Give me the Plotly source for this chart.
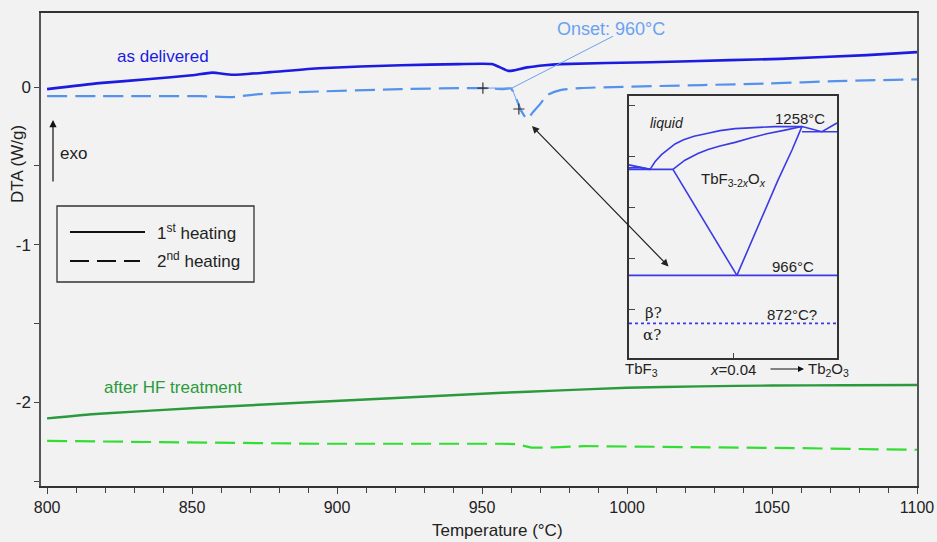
import plotly.graph_objects as go

# ---------------- main DTA data ----------------
T_del1 = [800, 818, 835.5, 850, 857, 864, 877, 894, 922, 942, 953.4, 956, 959, 961, 965.5, 971.7, 977, 1008, 1035.5, 1052.7, 1082.7, 1100]
D_del1 = [-0.013, 0.025, 0.051, 0.075, 0.092, 0.078, 0.095, 0.12, 0.139, 0.146, 0.146, 0.127, 0.103, 0.106, 0.125, 0.139, 0.146, 0.158, 0.171, 0.179, 0.203, 0.222]

T_del2 = [800, 835.5, 852.8, 864, 873, 887, 922, 950, 957, 960, 962, 963.4, 965.5, 967.6, 970, 972.4, 977, 984, 1026, 1049, 1072, 1100]
D_del2 = [-0.057, -0.057, -0.057, -0.063, -0.044, -0.032, -0.013, -0.006, -0.013, -0.009, -0.082, -0.146, -0.203, -0.158, -0.108, -0.051, -0.019, -0.006, 0.013, 0.023, 0.038, 0.049]

T_hf1 = [800, 818, 852.8, 894, 915, 957, 975, 1000, 1025, 1050, 1075, 1100]
D_hf1 = [-2.101, -2.072, -2.034, -1.996, -1.977, -1.939, -1.925, -1.907, -1.898, -1.893, -1.891, -1.889]

T_hf2 = [800, 835.5, 894, 956, 962, 967, 975, 985.5, 1027, 1059.6, 1097.6, 1100]
D_hf2 = [-2.244, -2.252, -2.262, -2.262, -2.264, -2.287, -2.285, -2.277, -2.283, -2.29, -2.30, -2.30]

# onset construction
onset_base_T = [950.3, 960.3]
onset_base_D = [-0.006, -0.006]
onset_slope_T = [960.3, 963.4]
onset_slope_D = [-0.006, -0.158]
onset_marks_T = [950.3, 962.7]
onset_marks_D = [-0.006, -0.139]
onset_leader_T = [960.3, 995.2]
onset_leader_D = [-0.006, 0.323]

# ---------------- inset phase diagram ----------------
liq_left_a_x = [0, 0.0081]
liq_left_a_T = [1183, 1174]
liq_left_b_x = [0, 0.004, 0.0081]
liq_left_b_T = [1177, 1178, 1174]
eut_x = [0, 0.0169]
eut_T = [1174, 1174]
liq_x = [0.0081, 0.010, 0.0125, 0.015, 0.0177, 0.021, 0.025, 0.0304, 0.035, 0.0408, 0.048, 0.056, 0.0665]
liq_T = [1174, 1189, 1203, 1214, 1224, 1232, 1239, 1245, 1250, 1254, 1256.5, 1258, 1258]
sol_x = [0.0169, 0.0215, 0.0265, 0.0304, 0.035, 0.0408, 0.047, 0.053, 0.060, 0.0665]
sol_T = [1174, 1192, 1205, 1213, 1220, 1227, 1236, 1244, 1251, 1258]
vl_x = [0.0169, 0.0415]
vl_T = [1174, 966]
vr_x = [0.0415, 0.0473, 0.0523, 0.0573, 0.0627, 0.0665]
vr_T = [966, 1035, 1094, 1153, 1212, 1258]
rh_x = [0.0665, 0.08]
rh_T = [1248, 1248]
rc_x = [0.0665, 0.0742, 0.08]
rc_T = [1258, 1248, 1265]
per_x = [0, 0.08]
per_T = [966, 966]
ab_x = [0, 0.08]
ab_T = [872, 872]

BG = "#f2f2f2"
C_DEL1 = "#1c1ce0"
C_DEL2 = "#5592ec"
C_HF1 = "#2a9a3c"
C_HF2 = "#33dd33"
C_PD = "#3a3ae6"
FONT = "Liberation Sans, Arial, sans-serif"

# plot area in pixels
L, R, TOP, BOT = 41, 917, 13, 486
W_PLOT, H_PLOT = R - L, BOT - TOP


def px(x):
    return (x - L) / W_PLOT


def py(y):
    return (BOT - y) / H_PLOT


fig = go.Figure()

dash = "20px,8px"
fig.add_trace(go.Scatter(x=T_del1, y=D_del1, mode="lines", line=dict(color=C_DEL1, width=2.6, shape="spline", smoothing=0.5), showlegend=False))
fig.add_trace(go.Scatter(x=T_del2, y=D_del2, mode="lines", line=dict(color=C_DEL2, width=2.2, dash=dash, shape="spline", smoothing=0.5), showlegend=False))
fig.add_trace(go.Scatter(x=T_hf1, y=D_hf1, mode="lines", line=dict(color=C_HF1, width=2.4, shape="spline", smoothing=0.6), showlegend=False))
fig.add_trace(go.Scatter(x=T_hf2, y=D_hf2, mode="lines", line=dict(color=C_HF2, width=2.2, dash=dash), showlegend=False))

for xs, ys in [(onset_base_T, onset_base_D), (onset_slope_T, onset_slope_D), (onset_leader_T, onset_leader_D)]:
    fig.add_trace(go.Scatter(x=xs, y=ys, mode="lines", line=dict(color="#6aa2f0", width=1), showlegend=False))
fig.add_trace(go.Scatter(x=onset_marks_T, y=onset_marks_D, mode="markers",
                         marker=dict(symbol="cross-thin", size=8, line=dict(color="#333333", width=1.2)),
                         showlegend=False))

# inset traces
inset = [(liq_left_a_x, liq_left_a_T), (liq_left_b_x, liq_left_b_T), (eut_x, eut_T), (liq_x, liq_T),
         (sol_x, sol_T), (vl_x, vl_T), (vr_x, vr_T), (rh_x, rh_T), (rc_x, rc_T), (per_x, per_T)]
for xs, ys in inset:
    fig.add_trace(go.Scatter(x=xs, y=ys, xaxis="x2", yaxis="y2", mode="lines",
                             line=dict(color=C_PD, width=1.6), showlegend=False))
fig.add_trace(go.Scatter(x=ab_x, y=ab_T, xaxis="x2", yaxis="y2", mode="lines",
                         line=dict(color=C_PD, width=1.6, dash="dot"), showlegend=False))

fig.update_layout(
    width=937, height=542,
    margin=dict(l=L, r=937 - R, t=TOP, b=542 - BOT, autoexpand=False),
    paper_bgcolor=BG, plot_bgcolor=BG,
    font=dict(family=FONT, color="#222222", size=17),
    showlegend=False,
    xaxis=dict(range=[797.9, 1100], domain=[0, 1], tickvals=[800, 850, 900, 950, 1000, 1050, 1100],
               ticks="outside", ticklen=6, tickwidth=1, tickcolor="#444", automargin=False,
               minor=dict(dtick=10, tick0=800, ticks="outside", ticklen=5, tickcolor="#444"),
               showline=True, linecolor="#333", linewidth=1.5, mirror=True, showgrid=False, zeroline=False,
               tickfont=dict(family=FONT, size=16, color="#222")),
    yaxis=dict(range=[-2.53, 0.47], domain=[0, 1], tickvals=[0, -1, -2], ticktext=["0", "-1", "-2"],
               ticks="outside", ticklen=5, tickwidth=1, tickcolor="#444", automargin=False,
               minor=dict(dtick=0.5, tick0=0, ticks="outside", ticklen=5, tickcolor="#444"),
               showline=True, linecolor="#555", linewidth=1.5, mirror=True, showgrid=False, zeroline=False,
               tickfont=dict(family=FONT, size=17, color="#222")),
    xaxis2=dict(range=[0, 0.08], domain=[px(629), px(837)], anchor="y2", tickvals=[0.04], ticktext=[""],
                ticks="inside", ticklen=5, tickcolor="#444", showline=True, linecolor="#333", linewidth=1.5,
                mirror=True, showgrid=False, zeroline=False, automargin=False),
    yaxis2=dict(range=[804, 1318], domain=[py(358), py(96)], anchor="x2",
                tickvals=[900, 1000, 1100, 1200, 1300], ticktext=[""] * 5,
                ticks="inside", ticklen=6, tickcolor="#444", showline=True, linecolor="#333", linewidth=1.5,
                mirror=True, showgrid=False, zeroline=False, automargin=False),
)

C = dict(xanchor="center", yanchor="middle")
ann = []
# axis titles
ann.append(dict(text="DTA (W/g)", xref="paper", yref="paper", x=px(18), y=py(164), textangle=-90,
                showarrow=False, font=dict(size=17), **C))
ann.append(dict(text="Temperature (°C)", xref="paper", yref="paper", x=px(497), y=py(530),
                showarrow=False, font=dict(size=17), **C))
# curve labels
ann.append(dict(text="as delivered", x=840, y=0.196, xref="x", yref="y", showarrow=False,
                font=dict(color=C_DEL1, size=17), **C))
ann.append(dict(text="after HF treatment", x=843.4, y=-1.905, xref="x", yref="y", showarrow=False,
                font=dict(color=C_HF1, size=17), **C))
ann.append(dict(text="Onset: 960°C", x=994.5, y=0.367, xref="x", yref="y", showarrow=False,
                font=dict(color="#6aa2f0", size=18), **C))
# exo arrow
ann.append(dict(text="", xref="paper", yref="paper", x=px(53), y=py(120), ax=0, ay=63,
                showarrow=True, arrowhead=2, arrowsize=1.2, arrowwidth=1.2, arrowcolor="#111"))
ann.append(dict(text="exo", xref="paper", yref="paper", x=px(58), y=py(153), xanchor="left", yanchor="middle",
                showarrow=False, font=dict(size=17)))
# double arrow to inset
ann.append(dict(text="", xref="paper", yref="paper", x=px(532), y=py(126), ax=138, ay=142,
                showarrow=True, arrowhead=2, startarrowhead=2, arrowside="end+start", arrowsize=1.2,
                arrowwidth=1.2, arrowcolor="#222"))
# legend text
ann.append(dict(text="1<sup>st</sup> heating", xref="paper", yref="paper", x=px(155), y=py(232),
                xanchor="left", yanchor="middle", showarrow=False, font=dict(size=17)))
ann.append(dict(text="2<sup>nd</sup> heating", xref="paper", yref="paper", x=px(155), y=py(260),
                xanchor="left", yanchor="middle", showarrow=False, font=dict(size=17)))
# inset text
ins = dict(xref="x2", yref="y2", showarrow=False, xanchor="center", yanchor="middle")
ann.append(dict(text="<i>liquid</i>", x=0.0146, y=1266, font=dict(size=14), **ins))
ann.append(dict(text="1258°C", x=0.0658, y=1274, font=dict(size=15), **ins))
ann.append(dict(text="TbF<sub>3-2<i>x</i></sub>O<sub><i>x</i></sub>", x=0.04, y=1155, font=dict(size=15), **ins))
ann.append(dict(text="966°C", x=0.063, y=984, font=dict(size=15), **ins))
ann.append(dict(text="872°C?", x=0.0627, y=889, font=dict(size=15), **ins))
ann.append(dict(text="β?", x=0.0095, y=892, font=dict(size=15, family="DejaVu Serif, serif"), **ins))
ann.append(dict(text="α?", x=0.009, y=849, font=dict(size=15, family="DejaVu Serif, serif"), **ins))
# inset composition labels (below the inset box)
pap = dict(xref="paper", yref="paper", showarrow=False, xanchor="center", yanchor="middle")
ann.append(dict(text="TbF<sub>3</sub>", x=px(641), y=py(369), font=dict(size=15), **pap))
ann.append(dict(text="<i>x</i>=0.04", x=px(733), y=py(369), font=dict(size=15), **pap))
ann.append(dict(text="Tb<sub>2</sub>O<sub>3</sub>", x=px(828), y=py(369), font=dict(size=15), **pap))
ann.append(dict(text="", xref="paper", yref="paper", x=px(804), y=py(369), ax=-35, ay=0,
                showarrow=True, arrowhead=2, arrowsize=1, arrowwidth=1.2, arrowcolor="#111"))
fig.update_layout(annotations=ann)

# manual legend
shapes = [
    dict(type="rect", xref="paper", yref="paper", x0=px(57), x1=px(254), y0=py(206), y1=py(282),
         line=dict(color="#333", width=1.3), fillcolor=BG),
    dict(type="line", xref="paper", yref="paper", x0=px(70), x1=px(145), y0=py(232), y1=py(232),
         line=dict(color="#111", width=2)),
    dict(type="line", xref="paper", yref="paper", x0=px(70), x1=px(140), y0=py(261), y1=py(261),
         line=dict(color="#111", width=2, dash="19px,8px")),
]
fig.update_layout(shapes=shapes)

fig.write_html("out.html")
